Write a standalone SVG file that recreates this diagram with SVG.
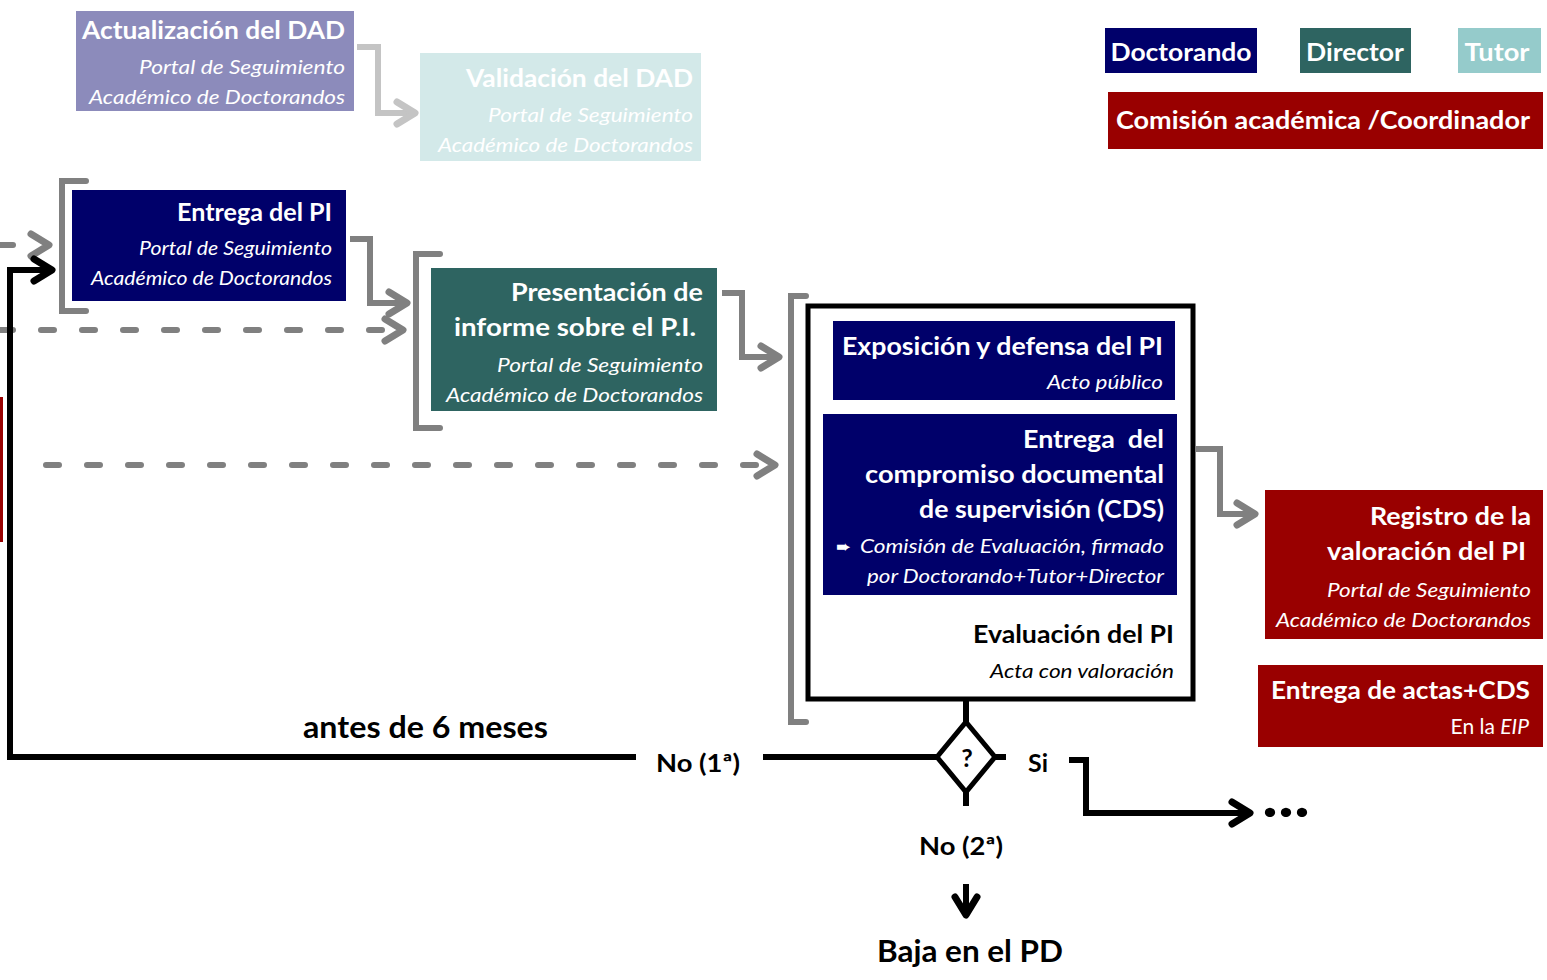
<svg xmlns="http://www.w3.org/2000/svg" width="1547" height="980" viewBox="0 0 1547 980">
<defs>
<style>
text{font-family:Lato,"Open Sans","DejaVu Sans",sans-serif}
.t{font-weight:700;font-size:25px;fill:#fff;text-anchor:end}
.s{font-style:italic;font-size:20px;fill:#fff;text-anchor:end}
.l{font-weight:700;font-size:25px;fill:#fff;text-anchor:middle}
.k{font-weight:700;fill:#000}
.gr{fill:none;stroke:#808080;stroke-width:6}
.br{fill:none;stroke:#808080;stroke-width:6;stroke-linecap:round;stroke-linejoin:miter}
.ds{fill:none;stroke:#808080;stroke-width:6;stroke-linecap:round;stroke-dasharray:13 28}
.bk{fill:none;stroke:#000;stroke-width:6}
.navy{fill:#00006a}
.teal{fill:#2e6461}
.red{fill:#990000}
</style>
<marker id="ag" viewBox="0 0 30 30" refX="25" refY="15" markerWidth="30" markerHeight="30" markerUnits="userSpaceOnUse" orient="auto"><path d="M7,4 L25,15 L7,26" fill="none" stroke="#808080" stroke-width="7" stroke-linecap="round" stroke-linejoin="round"/></marker>
<marker id="al" viewBox="0 0 30 30" refX="25" refY="15" markerWidth="30" markerHeight="30" markerUnits="userSpaceOnUse" orient="auto"><path d="M7,4 L25,15 L7,26" fill="none" stroke="#c4c4c4" stroke-width="7" stroke-linecap="round" stroke-linejoin="round"/></marker>
<marker id="ab" viewBox="0 0 30 30" refX="25" refY="15" markerWidth="30" markerHeight="30" markerUnits="userSpaceOnUse" orient="auto"><path d="M7,4 L25,15 L7,26" fill="none" stroke="#000" stroke-width="7" stroke-linecap="round" stroke-linejoin="round"/></marker>
</defs>
<rect width="1547" height="980" fill="#fff"/>

<g id="connectors">
<path d="M86,181 H62 V311 H86" class="br"/>
<path d="M440,254 H416 V428 H440" class="br"/>
<path d="M806,296 H791 V722 H806" class="br"/>
<path d="M357,47 H378 V113 H415" fill="none" stroke="#c4c4c4" stroke-width="6" marker-end="url(#al)"/>
<path d="M0,245 H49" class="ds" style="stroke-dasharray:13 50" marker-end="url(#ag)"/>
<path d="M350,239 H370 V303 H407" class="gr" marker-end="url(#ag)"/>
<path d="M0,330 H403" class="ds" marker-end="url(#ag)"/>
<path d="M722,293 H742 V357 H779" class="gr" marker-end="url(#ag)"/>
<path d="M46,465 H775" class="ds" marker-end="url(#ag)"/>
<path d="M1196,449 H1220 V514 H1255" class="gr" marker-end="url(#ag)"/>
<path d="M636,757 H10 V270 H52" class="bk" marker-end="url(#ab)"/>
<path d="M763,757 H937" class="bk"/>
<path d="M966,699 V722" class="bk"/>
<path d="M995,757 H1006" class="bk"/>
<path d="M1069,760 H1086 V813 H1250" class="bk" marker-end="url(#ab)"/>
<path d="M966,792 V806" class="bk"/>
<path d="M966,884 V915" class="bk" marker-end="url(#ab)"/>
</g>

<g id="offscreen-node"><rect x="-100" y="397" width="103" height="145" class="red"/></g>

<g id="actualizacion-dad">
<rect x="76" y="11" width="278" height="100" fill="#8c8bbb"/>
<text class="t" x="345" y="39" textLength="263" lengthAdjust="spacingAndGlyphs">Actualización del DAD</text>
<text class="s" x="345" y="74" textLength="206" lengthAdjust="spacingAndGlyphs">Portal de Seguimiento</text>
<text class="s" x="345" y="104" textLength="256" lengthAdjust="spacingAndGlyphs">Académico de Doctorandos</text>
</g>

<g id="validacion-dad">
<rect x="420" y="53" width="281" height="108" fill="#d3e9e9"/>
<text class="t" x="693" y="87" textLength="227" lengthAdjust="spacingAndGlyphs">Validación del DAD</text>
<text class="s" x="693" y="122" textLength="205" lengthAdjust="spacingAndGlyphs">Portal de Seguimiento</text>
<text class="s" x="693" y="152" textLength="255" lengthAdjust="spacingAndGlyphs">Académico de Doctorandos</text>
</g>

<g id="legend-doctorando">
<rect x="1105" y="28" width="152" height="45" class="navy"/>
<text class="l" x="1181" y="61" textLength="141" lengthAdjust="spacingAndGlyphs">Doctorando</text>
</g>
<g id="legend-director">
<rect x="1300" y="28" width="111" height="45" class="teal"/>
<text class="l" x="1355" y="61" textLength="98" lengthAdjust="spacingAndGlyphs">Director</text>
</g>
<g id="legend-tutor">
<rect x="1458" y="28" width="83" height="45" fill="#95cbcb"/>
<text class="l" x="1497" y="61" textLength="65" lengthAdjust="spacingAndGlyphs">Tutor</text>
</g>
<g id="legend-comision">
<rect x="1108" y="92" width="435" height="57" class="red"/>
<text class="l" x="1323" y="129" textLength="414" lengthAdjust="spacingAndGlyphs">Comisión académica /Coordinador</text>
</g>

<g id="entrega-pi">
<rect x="72" y="190" width="274" height="111" class="navy"/>
<text class="t" x="332" y="221" textLength="155" lengthAdjust="spacingAndGlyphs">Entrega del PI</text>
<text class="s" x="332" y="255" textLength="193" lengthAdjust="spacingAndGlyphs">Portal de Seguimiento</text>
<text class="s" x="332" y="285" textLength="241" lengthAdjust="spacingAndGlyphs">Académico de Doctorandos</text>
</g>

<g id="presentacion-informe">
<rect x="431" y="268" width="286" height="143" class="teal"/>
<text class="t" x="703" y="301" textLength="192" lengthAdjust="spacingAndGlyphs">Presentación de</text>
<text class="t" x="696" y="336" textLength="242" lengthAdjust="spacingAndGlyphs">informe sobre el P.I.</text>
<text class="s" x="703" y="372" textLength="206" lengthAdjust="spacingAndGlyphs">Portal de Seguimiento</text>
<text class="s" x="703" y="402" textLength="257" lengthAdjust="spacingAndGlyphs">Académico de Doctorandos</text>
</g>

<g id="evaluacion-pi">
<rect x="808" y="306" width="385" height="393" fill="#fff" stroke="#000" stroke-width="5"/>
<text class="t k" x="1174" y="643" textLength="201" lengthAdjust="spacingAndGlyphs">Evaluación del PI</text>
<text class="s" x="1174" y="678" style="fill:#000" textLength="184" lengthAdjust="spacingAndGlyphs">Acta con valoración</text>
</g>

<g id="exposicion-defensa">
<rect x="833" y="321" width="342" height="79" class="navy"/>
<text class="t" x="1163" y="355" textLength="321" lengthAdjust="spacingAndGlyphs">Exposición y defensa del PI</text>
<text class="s" x="1163" y="389" textLength="116" lengthAdjust="spacingAndGlyphs">Acto público</text>
</g>

<g id="entrega-cds">
<rect x="823" y="414" width="354" height="181" class="navy"/>
<text class="t" x="1164" y="448" style="white-space:pre" textLength="141" lengthAdjust="spacingAndGlyphs">Entrega  del</text>
<text class="t" x="1164" y="483" textLength="299" lengthAdjust="spacingAndGlyphs">compromiso documental</text>
<text class="t" x="1164" y="518" textLength="245" lengthAdjust="spacingAndGlyphs">de supervisión (CDS)</text>
<text x="836" y="553" font-size="19" fill="#fff" style="font-family:'DejaVu Sans',sans-serif" textLength="15" lengthAdjust="spacingAndGlyphs">➨</text>
<text class="s" x="1164" y="553" textLength="304" lengthAdjust="spacingAndGlyphs">Comisión de Evaluación, firmado</text>
<text class="s" x="1164" y="583" textLength="297" lengthAdjust="spacingAndGlyphs">por Doctorando+Tutor+Director</text>
</g>

<g id="registro-valoracion">
<rect x="1265" y="490" width="278" height="149" class="red"/>
<text class="t" x="1531" y="525" textLength="161" lengthAdjust="spacingAndGlyphs">Registro de la</text>
<text class="t" x="1526" y="560" textLength="199" lengthAdjust="spacingAndGlyphs">valoración del PI</text>
<text class="s" x="1531" y="597" textLength="204" lengthAdjust="spacingAndGlyphs">Portal de Seguimiento</text>
<text class="s" x="1531" y="627" textLength="255" lengthAdjust="spacingAndGlyphs">Académico de Doctorandos</text>
</g>

<g id="entrega-actas">
<rect x="1258" y="665" width="285" height="82" class="red"/>
<text class="t" x="1530" y="699" textLength="259" lengthAdjust="spacingAndGlyphs">Entrega de actas+CDS</text>
<text x="1529" y="734" font-size="21" fill="#fff" text-anchor="end">En la <tspan font-style="italic">EIP</tspan></text>
</g>

<g id="decision">
<polygon points="966,722 995,757 966,792 937,757" fill="#fff" stroke="#000" stroke-width="5" stroke-linejoin="miter"/>
<text x="967" y="767" font-size="25" font-weight="700" text-anchor="middle" fill="#000">?</text>
</g>

<g id="labels">
<text class="k" x="303" y="738" font-size="30" textLength="245" lengthAdjust="spacingAndGlyphs">antes de 6 meses</text>
<text class="k" x="656" y="772" font-size="24" textLength="84" lengthAdjust="spacingAndGlyphs">No (1ª)</text>
<text class="k" x="1028" y="772" font-size="24" textLength="20" lengthAdjust="spacingAndGlyphs">Si</text>
<text class="k" x="919" y="855" font-size="24" textLength="84" lengthAdjust="spacingAndGlyphs">No (2ª)</text>
<text class="k" x="877" y="962" font-size="31" textLength="186" lengthAdjust="spacingAndGlyphs">Baja en el PD</text>
<text class="k" x="1262" y="817" font-size="62" textLength="48" lengthAdjust="spacingAndGlyphs">...</text>
</g>
</svg>
